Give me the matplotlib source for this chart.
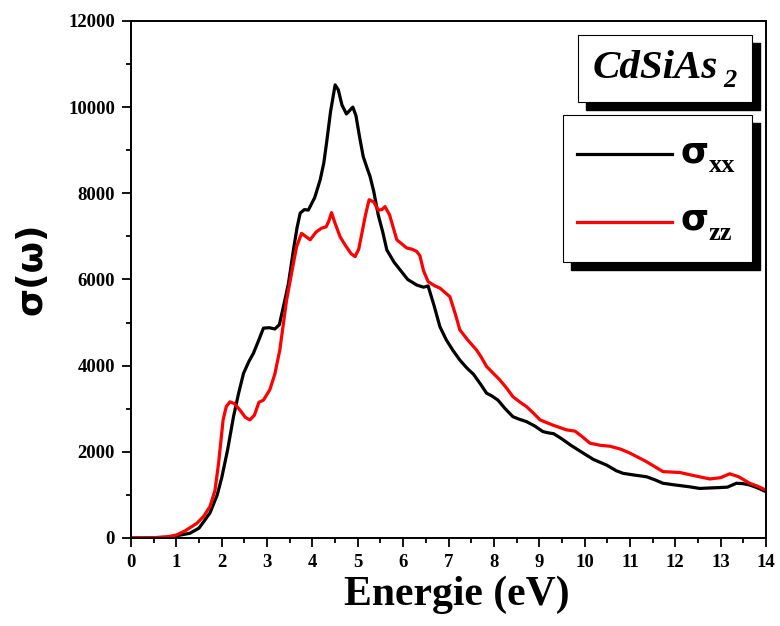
import matplotlib
matplotlib.use('Agg')
import matplotlib.pyplot as plt
from matplotlib.patches import Rectangle
from matplotlib.ticker import MultipleLocator

plt.rcParams['font.family'] = ['Liberation Serif', 'DejaVu Serif']
plt.rcParams['font.weight'] = 'bold'

# conductivite optique, composante xx
e_xx = [0, 0.5, 0.8, 1.0, 1.3, 1.5, 1.74, 1.9, 2.0, 2.13, 2.26, 2.37, 2.48, 2.6, 2.7, 2.8,
        2.92, 3.05, 3.17, 3.27, 3.36, 3.47, 3.58, 3.66, 3.73, 3.82, 3.91, 4.05, 4.17, 4.25,
        4.31, 4.4, 4.5, 4.57, 4.65, 4.75, 4.82, 4.89, 4.96, 5.04, 5.12, 5.2, 5.27, 5.35,
        5.45, 5.55, 5.64, 5.8, 5.95, 6.1, 6.3, 6.45, 6.55, 6.68, 6.81, 6.95, 7.1, 7.25,
        7.4, 7.55, 7.7, 7.84, 7.95, 8.09, 8.25, 8.42, 8.55, 8.72, 8.9, 9.08, 9.2, 9.32,
        9.5, 9.7, 9.97, 10.2, 10.49, 10.7, 10.85, 11.1, 11.37, 11.55, 11.73, 12.0, 12.3,
        12.54, 12.75, 12.98, 13.15, 13.35, 13.5, 13.64, 13.8, 14.0]
s_xx = [0, 5, 20, 50, 110, 230, 580, 1000, 1400, 2050, 2820, 3350, 3820, 4100, 4290, 4550,
        4870, 4880, 4850, 4950, 5370, 5900, 6680, 7200, 7540, 7620, 7610, 7900, 8310, 8700,
        9160, 9900, 10515, 10400, 10050, 9840, 9920, 10000, 9800, 9300, 8850, 8600, 8390, 8050,
        7500, 7100, 6685, 6400, 6200, 6000, 5870, 5820, 5850, 5400, 4905, 4600, 4350, 4130,
        3950, 3800, 3580, 3360, 3300, 3200, 3000, 2815, 2760, 2700, 2600, 2470, 2440, 2420,
        2300, 2150, 1970, 1820, 1690, 1560, 1500, 1460, 1420, 1350, 1270, 1230, 1190,
        1150, 1160, 1170, 1180, 1270, 1260, 1230, 1170, 1075]

# composante zz
e_zz = [0, 0.5, 0.8, 1.0, 1.2, 1.45, 1.6, 1.74, 1.85, 1.93, 2.03, 2.1, 2.18, 2.28, 2.4, 2.52,
        2.62, 2.72, 2.82, 2.92, 3.06, 3.17, 3.28, 3.43, 3.55, 3.65, 3.76, 3.85, 3.95, 4.08,
        4.2, 4.3, 4.36, 4.42, 4.5, 4.61, 4.72, 4.85, 4.94, 5.02, 5.09, 5.17, 5.25, 5.35,
        5.45, 5.53, 5.6, 5.7, 5.86, 6.08, 6.2, 6.3, 6.37, 6.45, 6.55, 6.7, 6.81, 6.92, 7.03,
        7.15, 7.25, 7.42, 7.62, 7.72, 7.84, 7.98, 8.13, 8.28, 8.42, 8.58, 8.72, 8.87, 9.02,
        9.3, 9.6, 9.79, 9.95, 10.12, 10.35, 10.56, 10.8, 11.0, 11.35, 11.73, 12.1, 12.4,
        12.76, 13.0, 13.2, 13.4, 13.64, 13.82, 14.0]
s_zz = [0, 8, 25, 70, 170, 340, 500, 730, 1100, 1730, 2740, 3050, 3160, 3120, 2970, 2800,
        2740, 2850, 3150, 3200, 3440, 3800, 4360, 5520, 6200, 6760, 7070, 7000, 6920, 7100,
        7190, 7220, 7350, 7550, 7300, 6990, 6800, 6600, 6530, 6700, 7070, 7500, 7850, 7800,
        7610, 7620, 7690, 7500, 6920, 6730, 6700, 6650, 6550, 6200, 5950, 5850, 5800, 5700, 5600,
        5200, 4830, 4600, 4360, 4200, 3980, 3830, 3670, 3480, 3280, 3150, 3050, 2900, 2740,
        2620, 2510, 2480, 2350, 2200, 2150, 2130, 2060, 1970, 1780, 1540, 1520, 1450,
        1370, 1400, 1490, 1420, 1270, 1200, 1110]

fig = plt.figure(figsize=(7.8, 6.26), dpi=100)
ax = fig.add_axes([0.168, 0.1406, 0.814, 0.826])

ax.plot(e_xx, s_xx, color='black', lw=2.3, solid_joinstyle='round')
ax.plot(e_zz, s_zz, color='red', lw=2.3, solid_joinstyle='round')

ax.set_xlim(0, 14)
ax.set_ylim(0, 12000)
ax.xaxis.set_major_locator(MultipleLocator(1))
ax.xaxis.set_minor_locator(MultipleLocator(0.5))
ax.yaxis.set_major_locator(MultipleLocator(2000))
ax.yaxis.set_minor_locator(MultipleLocator(1000))
ax.tick_params(which='both', direction='out', width=1.3, labelsize=13.5, pad=5)
ax.tick_params(which='major', length=6.5)
ax.tick_params(which='minor', length=3.5)
for sp in ax.spines.values():
    sp.set_linewidth(1.4)
for lab in ax.get_xticklabels() + ax.get_yticklabels():
    lab.set_fontweight('bold')

ax.set_xlabel('Energie (eV)', fontsize=30, fontweight='bold')
ax.xaxis.set_label_coords(0.513, -0.072)
ax.set_ylabel('σ(ω)', fontsize=26, fontweight='bold', va='center',
              family=['DejaVu Sans'])
ax.yaxis.set_label_coords(-0.157, 0.52)

# boites avec ombre : titre et legende
def shadow_box(x0, y0, x1, y1, dx=0.0126, dy=0.0155):
    ax.add_patch(Rectangle((x0 + dx, y0 - dy), x1 - x0, y1 - y0, transform=ax.transAxes,
                           facecolor='black', edgecolor='black', zorder=5, clip_on=False))
    ax.add_patch(Rectangle((x0, y0), x1 - x0, y1 - y0, transform=ax.transAxes,
                           facecolor='white', edgecolor='black', lw=0.8, zorder=6, clip_on=False))

shadow_box(0.704, 0.843, 0.978, 0.973)
ax.text(0.727, 0.908, 'CdSiAs', transform=ax.transAxes, fontsize=29.5, fontstyle='italic',
        fontweight='bold', ha='left', va='center', zorder=7)
ax.text(0.943, 0.884, '2', transform=ax.transAxes, fontsize=19, fontstyle='italic',
        fontweight='bold', ha='center', va='center', zorder=7)

shadow_box(0.680, 0.534, 0.978, 0.818)
for yl, col, sub in [(0.742, 'black', 'xx'), (0.611, 'red', 'zz')]:
    ax.plot([0.702, 0.852], [yl, yl], transform=ax.transAxes, color=col, lw=2.3,
            zorder=7, clip_on=False)
    ax.text(0.865, yl + 0.004, 'σ', transform=ax.transAxes, fontsize=26, fontweight='bold',
            ha='left', va='center', zorder=7, family=['DejaVu Sans'])
    ax.text(0.910, yl - 0.022, sub, transform=ax.transAxes, fontsize=19, fontweight='bold',
            ha='left', va='center', zorder=7)

fig.savefig('out.png', dpi=100)
